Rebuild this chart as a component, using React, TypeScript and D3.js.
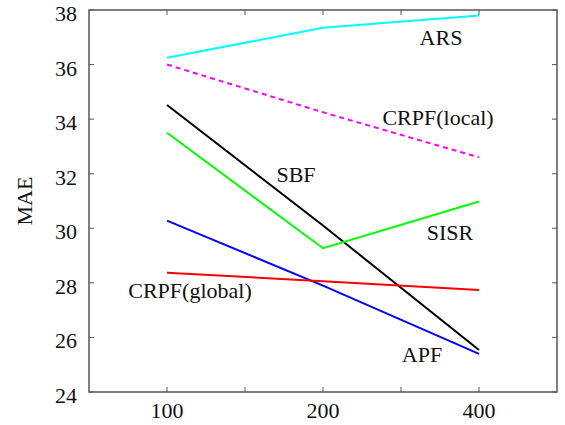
import * as d3 from "d3";

const xLabels = ["100", "200", "400"];
const xTickPositions = [1, 1.5, 2, 2.5, 3];
const yTicks = [24, 26, 28, 30, 32, 34, 36, 38];

const arsValues = [36.25, 37.35, 37.8];
const crpfLocalValues = [36.0, 34.25, 32.6];
const sbfValues = [34.52, 30.1, 25.54];
const sisrValues = [33.5, 29.27, 30.98];
const apfValues = [30.28, 27.9, 25.4];
const crpfGlobalValues = [28.37, 28.06, 27.74];

const seriesList = [
  { name: "ARS", values: arsValues, color: "#00ffff", dash: null, lx: 441, ly: 45 },
  { name: "CRPF(local)", values: crpfLocalValues, color: "#ff00ff", dash: "5,4", lx: 438, ly: 125 },
  { name: "SBF", values: sbfValues, color: "#000000", dash: null, lx: 296, ly: 182 },
  { name: "SISR", values: sisrValues, color: "#00ff00", dash: null, lx: 450, ly: 240 },
  { name: "APF", values: apfValues, color: "#0000ff", dash: null, lx: 422, ly: 362 },
  { name: "CRPF(global)", values: crpfGlobalValues, color: "#ff0000", dash: null, lx: 190, ly: 298 },
];

const W = 565;
const H = 425;
const left = 89;
const right = 557;
const top = 10;
const bottom = 392;
const font = "'Liberation Serif', 'Times New Roman', serif";

export default function App() {
  const x = d3.scaleLinear().domain([0.5, 3.5]).range([left, right]);
  const y = d3.scaleLinear().domain([24, 38]).range([bottom, top]);

  const line = d3
    .line<number>()
    .x((_, i) => x(i + 1))
    .y((d) => y(d));

  const tickLen = 5;
  const axisColor = "#555";
  const fs = 22;

  return (
    <svg
      width={W}
      height={H}
      style={{ position: "absolute", left: 0, top: 0, background: "#fff" }}
      fontFamily={font}
    >
      <rect x={0} y={0} width={W} height={H} fill="#fff" />

      {/* y ticks, left and right */}
      {yTicks.map((t) => (
        <g key={"y" + t}>
          <line x1={left} x2={left + tickLen} y1={y(t)} y2={y(t)} stroke={axisColor} />
          <line x1={right} x2={right - tickLen} y1={y(t)} y2={y(t)} stroke={axisColor} />
          <text x={77} y={y(t) + 11} textAnchor="end" fontSize={fs} fill="#111">
            {t}
          </text>
        </g>
      ))}

      {/* x ticks, bottom and top */}
      {xTickPositions.map((p) => (
        <g key={"x" + p}>
          <line x1={x(p)} x2={x(p)} y1={bottom} y2={bottom - tickLen} stroke={axisColor} />
          <line x1={x(p)} x2={x(p)} y1={top} y2={top + tickLen} stroke={axisColor} />
        </g>
      ))}
      {xLabels.map((l, i) => (
        <text key={l} x={x(i + 1)} y={418} textAnchor="middle" fontSize={fs} fill="#111">
          {l}
        </text>
      ))}

      <text
        transform={`translate(32,${(top + bottom) / 2}) rotate(-90)`}
        textAnchor="middle"
        fontSize={fs}
        fill="#111"
      >
        MAE
      </text>

      {seriesList.map((s) => (
        <g key={s.name}>
          <path
            d={line(s.values) || ""}
            fill="none"
            stroke={s.color}
            strokeWidth={2}
            strokeDasharray={s.dash || undefined}
          />
          <text x={s.lx} y={s.ly} textAnchor="middle" fontSize={fs} fill="#111">
            {s.name}
          </text>
        </g>
      ))}

      <rect
        x={left}
        y={top}
        width={right - left}
        height={bottom - top}
        fill="none"
        stroke={axisColor}
        strokeWidth={1.5}
      />
    </svg>
  );
}
